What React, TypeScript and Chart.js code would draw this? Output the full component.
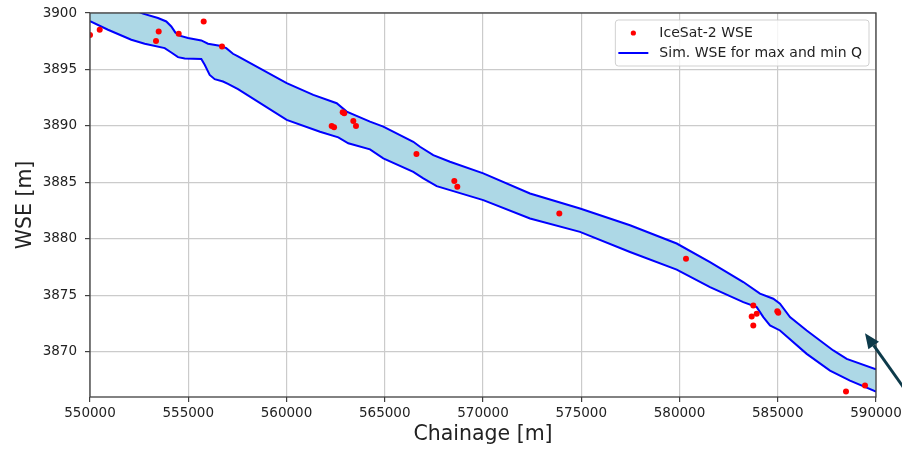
import React, { useEffect, useRef } from "react";
import { Chart, registerables } from "chart.js";

Chart.register(...registerables);

const FONT = '"DejaVu Sans", "Liberation Sans", sans-serif';

// Axis ticks
const X_TICKS = [550000, 555000, 560000, 565000, 570000, 575000, 580000, 585000, 590000];
const Y_TICKS = [3870, 3875, 3880, 3885, 3890, 3895, 3900];

// IceSat-2 water surface elevation observations
const ICESAT_CHAINAGE = [
  550000, 550494, 553359, 553496, 554514, 555786, 556717,
  562300, 562420, 562860, 562940, 563400, 563536, 566614,
  568540, 568693, 573883, 580330, 583674, 583755, 583755,
  583928, 584977, 585028, 588473, 589440,
];
const ICESAT_WSE = [
  3898.05, 3898.52, 3897.51, 3898.37, 3898.16, 3899.25, 3897.04,
  3890.0, 3889.88, 3891.21, 3891.12, 3890.44, 3890.0, 3887.51,
  3885.12, 3884.61, 3882.25, 3878.25, 3873.13, 3874.11, 3872.33,
  3873.37, 3873.6, 3873.46, 3866.48, 3867.01,
];

// Simulated WSE for maximum discharge
const SIM_MAX_CHAINAGE = [
  550000, 552697, 553460, 553883, 554137, 554341, 554565, 554987,
  555664, 556005, 556600, 556936, 557277, 557532, 560010, 561364,
  562555, 563064, 564249, 564926, 566453, 566794, 567470, 568320,
  570015, 572392, 574936, 577481, 579857, 581552, 583247, 584096,
  584773, 585114, 585623, 586473, 587827, 588509, 590000,
];
const SIM_MAX_WSE = [
  3902.0, 3899.94, 3899.56, 3899.25, 3898.81, 3898.28, 3897.99, 3897.78,
  3897.57, 3897.28, 3897.1, 3896.89, 3896.39, 3896.15, 3893.79, 3892.75,
  3892.01, 3891.27, 3890.38, 3889.94, 3888.6, 3888.16, 3887.42, 3886.83,
  3885.8, 3884.02, 3882.69, 3881.21, 3879.59, 3877.95, 3876.18, 3875.15,
  3874.7, 3874.26, 3873.07, 3871.89, 3870.12, 3869.38, 3868.45,
];

// Simulated WSE for minimum discharge
const SIM_MIN_CHAINAGE = [
  550000, 550916, 552102, 552784, 553802, 554137, 554478, 554819,
  555664, 555837, 556091, 556346, 556768, 557023, 557532, 560010,
  561705, 562636, 563145, 564249, 564926, 566453, 566962, 567643,
  568320, 570015, 572392, 574936, 577481, 579857, 581552, 583247,
  583929, 584265, 584605, 585114, 586473, 587659, 588676, 590000,
];
const SIM_MIN_WSE = [
  3899.28, 3898.52, 3897.63, 3897.28, 3896.89, 3896.5, 3896.09, 3895.97,
  3895.92, 3895.41, 3894.52, 3894.14, 3893.93, 3893.73, 3893.25, 3890.53,
  3889.49, 3888.99, 3888.46, 3887.93, 3887.13, 3885.94, 3885.36, 3884.67,
  3884.32, 3883.43, 3881.81, 3880.62, 3878.84, 3877.28, 3875.73, 3874.4,
  3873.96, 3873.07, 3872.34, 3871.89, 3869.82, 3868.34, 3867.45, 3866.47,
];

// Pointer arrow at the downstream end (data coordinates)
const ARROW_FROM = { x: 591830, y: 3865.8 };
const ARROW_TO = { x: 589440, y: 3871.65 };

const pairs = (xs: number[], ys: number[]) => xs.map((x, i) => ({ x, y: ys[i] }));

const frameLegendArrow = {
  id: "frameLegendArrow",
  afterDraw(chart: any) {
    const { ctx, chartArea } = chart;
    const { left, top, right, bottom } = chartArea;
    ctx.save();

    // axes frame
    ctx.strokeStyle = "#404040";
    ctx.lineWidth = 1.3;
    ctx.strokeRect(left, top, right - left, bottom - top);

    // legend
    const ds = chart.data.datasets;
    const labels = [ds[0].label, ds[1].label];
    ctx.font = `14px ${FONT}`;
    const textW = Math.max(...labels.map((l: string) => ctx.measureText(l).width));
    const boxW = 3 + 30 + 11 + textW + 7;
    const boxH = 46;
    const bx = right - 7 - boxW;
    const by = top + 7;
    ctx.beginPath();
    ctx.roundRect(bx, by, boxW, boxH, 3);
    ctx.fillStyle = "rgba(255,255,255,0.8)";
    ctx.fill();
    ctx.strokeStyle = "rgba(204,204,204,0.9)";
    ctx.lineWidth = 1;
    ctx.stroke();

    const row1 = by + 13;
    const row2 = by + 33;
    const hx = bx + 3;
    ctx.fillStyle = ds[0].backgroundColor;
    ctx.beginPath();
    ctx.arc(hx + 15, row1, 2.6, 0, Math.PI * 2);
    ctx.fill();
    ctx.strokeStyle = ds[1].borderColor;
    ctx.lineWidth = 2;
    ctx.beginPath();
    ctx.moveTo(hx, row2);
    ctx.lineTo(hx + 30, row2);
    ctx.stroke();

    ctx.fillStyle = "#222";
    ctx.textBaseline = "middle";
    ctx.textAlign = "left";
    ctx.fillText(labels[0], hx + 41, row1);
    ctx.fillText(labels[1], hx + 41, row2);

    // arrow
    const xs = chart.scales.x;
    const ys = chart.scales.y;
    const x1 = xs.getPixelForValue(ARROW_FROM.x);
    const y1 = ys.getPixelForValue(ARROW_FROM.y);
    const x2 = xs.getPixelForValue(ARROW_TO.x);
    const y2 = ys.getPixelForValue(ARROW_TO.y);
    const ang = Math.atan2(y2 - y1, x2 - x1);
    const headLen = 15;
    const headHalf = 6.5;
    const bxp = x2 - headLen * Math.cos(ang);
    const byp = y2 - headLen * Math.sin(ang);
    ctx.strokeStyle = "#0d3a4a";
    ctx.fillStyle = "#0d3a4a";
    ctx.lineWidth = 3;
    ctx.beginPath();
    ctx.moveTo(x1, y1);
    ctx.lineTo(bxp, byp);
    ctx.stroke();
    ctx.beginPath();
    ctx.moveTo(x2, y2);
    ctx.lineTo(bxp + headHalf * Math.sin(ang), byp - headHalf * Math.cos(ang));
    ctx.lineTo(bxp - headHalf * Math.sin(ang), byp + headHalf * Math.cos(ang));
    ctx.closePath();
    ctx.fill();

    ctx.restore();
  },
};

export default function App() {
  const canvasRef = useRef<HTMLCanvasElement | null>(null);

  useEffect(() => {
    document.body.style.margin = "0";
    const canvas = canvasRef.current;
    if (!canvas) return;

    const tickFont = { family: FONT, size: 13.5 };
    const titleFont = { family: FONT, size: 20.5, lineHeight: 1.2 };
    const grid = {
      color: "#cbcbcb",
      lineWidth: 1.2,
      tickLength: 5,
      tickColor: "#404040",
      tickWidth: 1.2,
    };

    const chart = new Chart(canvas, {
      type: "scatter",
      data: {
        datasets: [
          {
            type: "scatter",
            label: "IceSat-2 WSE",
            data: pairs(ICESAT_CHAINAGE, ICESAT_WSE),
            backgroundColor: "#ff0000",
            borderWidth: 0,
            pointRadius: 3,
            clip: 0,
          },
          {
            type: "line",
            label: "Sim. WSE for max and min Q",
            data: pairs(SIM_MAX_CHAINAGE, SIM_MAX_WSE),
            borderColor: "#0000ff",
            borderWidth: 2,
            backgroundColor: "#add8e6",
            pointRadius: 0,
            tension: 0,
            fill: "+1",
            clip: 0,
          },
          {
            type: "line",
            label: "Sim. WSE min Q",
            data: pairs(SIM_MIN_CHAINAGE, SIM_MIN_WSE),
            borderColor: "#0000ff",
            borderWidth: 2,
            pointRadius: 0,
            tension: 0,
            fill: false,
            clip: 0,
          },
        ] as any,
      },
      options: {
        animation: false,
        responsive: false,
        devicePixelRatio: 1,
        layout: { padding: { top: 13, right: 26, bottom: 0, left: 0 } },
        plugins: {
          legend: { display: false },
          tooltip: { enabled: false },
          filler: { drawTime: "beforeDatasetsDraw" },
        },
        scales: {
          x: {
            type: "linear",
            min: 550000,
            max: 590000,
            afterBuildTicks: (s: any) => {
              s.ticks = X_TICKS.map((value) => ({ value }));
            },
            afterFit: (s: any) => {
              s.height = 53;
              s.paddingLeft = 0;
              s.paddingRight = 0;
            },
            ticks: {
              font: tickFont,
              color: "#222",
              padding: 3,
              maxRotation: 0,
              autoSkip: false,
              callback: (v: any) => String(v),
            },
            grid,
            border: { display: false },
            title: {
              display: true,
              text: "Chainage [m]",
              font: titleFont,
              color: "#222",
              padding: { top: 0, bottom: 3 },
            },
          },
          y: {
            type: "linear",
            min: 3866,
            max: 3900,
            afterBuildTicks: (s: any) => {
              s.ticks = Y_TICKS.map((value) => ({ value }));
            },
            afterFit: (s: any) => {
              s.width = 90;
              s.paddingTop = 0;
              s.paddingBottom = 0;
            },
            ticks: {
              font: tickFont,
              color: "#222",
              padding: 8,
              autoSkip: false,
              callback: (v: any) => String(v),
            },
            grid,
            border: { display: false },
            title: {
              display: true,
              text: "WSE [m]",
              font: titleFont,
              color: "#222",
              padding: { top: 13.5, bottom: 0 },
            },
          },
        },
      },
      plugins: [frameLegendArrow],
    });

    return () => chart.destroy();
  }, []);

  return (
    <canvas
      ref={canvasRef}
      width={902}
      height={450}
      style={{ display: "block", width: 902, height: 450 }}
    />
  );
}
